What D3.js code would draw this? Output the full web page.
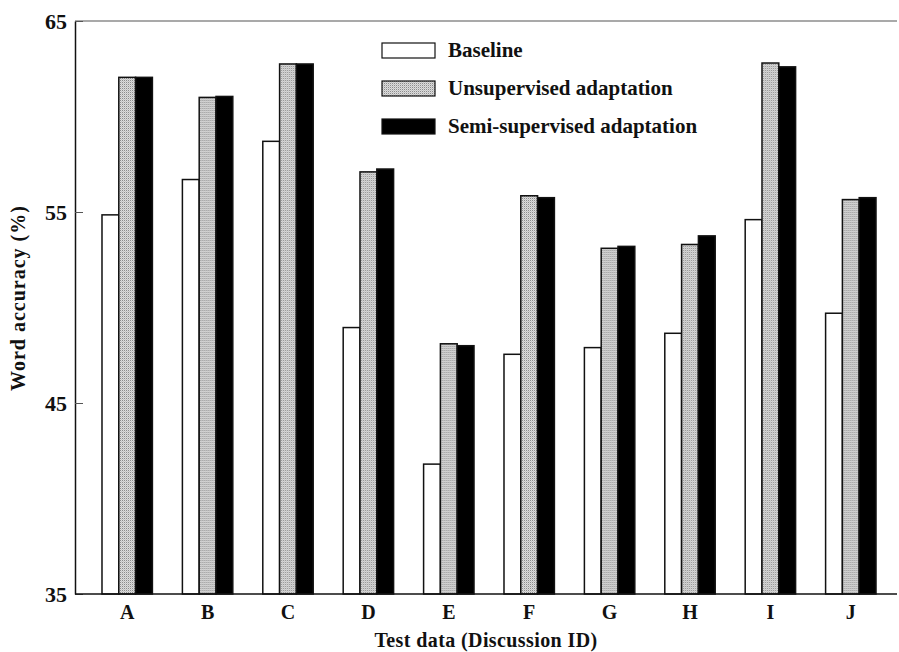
<!DOCTYPE html>
<html>
  <head>
    <meta charset="utf-8">
    <title></title>
  </head>
  <style>
  body{
      margin: 0;
      background: #fff;
      font-family: "Liberation Serif", "DejaVu Serif", serif;
    }
  text { font-weight: bold; fill: #111; }
  </style>
  <script src="https://d3js.org/d3.v7.min.js"></script>
  <body>
    <script>
    // data
    var categories = ["A", "B", "C", "D", "E", "F", "G", "H", "I", "J"]
    var seriesNames = ["Baseline", "Unsupervised adaptation", "Semi-supervised adaptation"]
    var baseline     = [54.85, 56.7, 58.7, 48.95, 41.8, 47.55, 47.9, 48.65, 54.6, 49.7]
    var unsupervised = [62.05, 61.0, 62.75, 57.1, 48.1, 55.85, 53.1, 53.3, 62.8, 55.65]
    var semi         = [62.05, 61.05, 62.75, 57.25, 48.0, 55.75, 53.2, 53.75, 62.6, 55.75]
    var yTicks = [35, 45, 55, 65]

    var width = 899, height = 652
    var margin = { left: 75, top: 21, right: 2, bottom: 58 }
    var plotRight = width - margin.right
    var plotBottom = height - margin.bottom

    var svg = d3.select("body")
                .append("svg")
                .attr("width", width)
                .attr("height", height)

    // stipple pattern for the unsupervised bars
    var defs = svg.append("defs")
    var pat = defs.append("pattern")
        .attr("id", "stipple")
        .attr("patternUnits", "userSpaceOnUse")
        .attr("width", 2).attr("height", 2)
    pat.append("rect").attr("width", 2).attr("height", 2).attr("fill", "#dcdcdc")
    pat.append("rect").attr("x", 0).attr("y", 0).attr("width", 1).attr("height", 1).attr("fill", "#8c8c8c")
    pat.append("rect").attr("x", 1).attr("y", 1).attr("width", 1).attr("height", 1).attr("fill", "#c4c4c4")

    var fills = ["#ffffff", "url(#stipple)", "#000000"]

    var yScale = d3.scaleLinear()
        .domain([35, 65])
        .range([plotBottom, margin.top])

    var xScale = d3.scaleBand()
        .domain(categories)
        .range([87, 891])
        .paddingInner(0.373)
        .paddingOuter(0.1865)

    var xSub = d3.scaleBand()
        .domain(d3.range(3))
        .range([0, xScale.bandwidth()])

    // top border
    svg.append("line")
        .attr("x1", margin.left).attr("x2", plotRight)
        .attr("y1", margin.top).attr("y2", margin.top)
        .attr("stroke", "#555").attr("stroke-width", 1.2)

    //bars
    var rows = categories.map(function(c, i){
        return { cat: c, vals: [baseline[i], unsupervised[i], semi[i]] }
    })

    var groups = svg.append("g").selectAll("g")
        .data(rows)
        .enter()
        .append("g")
        .attr("transform", function(d){ return "translate(" + xScale(d.cat) + ",0)" })

    groups.selectAll("rect")
        .data(function(d){ return d.vals })
        .enter()
        .append("rect")
        .attr("x", function(d, i){ return xSub(i) })
        .attr("y", function(d){ return yScale(d) })
        .attr("width", xSub.bandwidth())
        .attr("height", function(d){ return plotBottom - yScale(d) })
        .attr("fill", function(d, i){ return fills[i] })
        .attr("stroke", "#111")
        .attr("stroke-width", 1.5)

    // y axis
    var yAxis = d3.axisLeft(yScale)
        .tickValues(yTicks)
        .tickSizeInner(-8)
        .tickSizeOuter(0)
    var gy = svg.append("g")
        .attr("transform", "translate(" + margin.left + ",0)")
        .call(yAxis)
    gy.select(".domain").attr("stroke", "#111").attr("stroke-width", 1.5)
    gy.selectAll(".tick line").attr("stroke", "#555")
    gy.selectAll(".tick text")
        .attr("font-size", "22px")
        .attr("font-family", "Liberation Serif")
        .attr("x", -8)
        .attr("fill", "#111")

    // x axis
    var xAxis = d3.axisBottom(xScale).tickSize(0).tickPadding(11)
    var gx = svg.append("g")
        .attr("transform", "translate(0," + plotBottom + ")")
        .call(xAxis)
    gx.select(".domain")
        .attr("d", "M" + margin.left + ",0H" + plotRight)
        .attr("stroke", "#111").attr("stroke-width", 1.5)
    gx.selectAll(".tick text")
        .attr("font-size", "20px")
        .attr("font-family", "Liberation Serif")
        .attr("fill", "#111")

    // axis titles
    svg.append("text")
        .attr("x", (margin.left + plotRight) / 2)
        .attr("y", 647)
        .attr("text-anchor", "middle")
        .attr("font-size", "20px")
        .attr("letter-spacing", "0.4px")
        .text("Test data (Discussion ID)")

    svg.append("text")
        .attr("transform", "translate(25,298) rotate(-90)")
        .attr("text-anchor", "middle")
        .attr("font-size", "20px")
        .attr("letter-spacing", "1px")
        .text("Word accuracy (%)")

    // legend
    var legend = svg.append("g")
        .attr("transform", "translate(382,43)")
    var items = legend.selectAll("g")
        .data(seriesNames)
        .enter()
        .append("g")
        .attr("transform", function(d, i){ return "translate(0," + (i * 38) + ")" })
    items.append("rect")
        .attr("width", 53).attr("height", 15)
        .attr("fill", function(d, i){ return fills[i] })
        .attr("stroke", "#111").attr("stroke-width", 1.2)
    items.append("text")
        .attr("x", 66)
        .attr("y", 14)
        .attr("font-size", "21px")
        .text(function(d){ return d })
    </script>
  </body>
</html>
